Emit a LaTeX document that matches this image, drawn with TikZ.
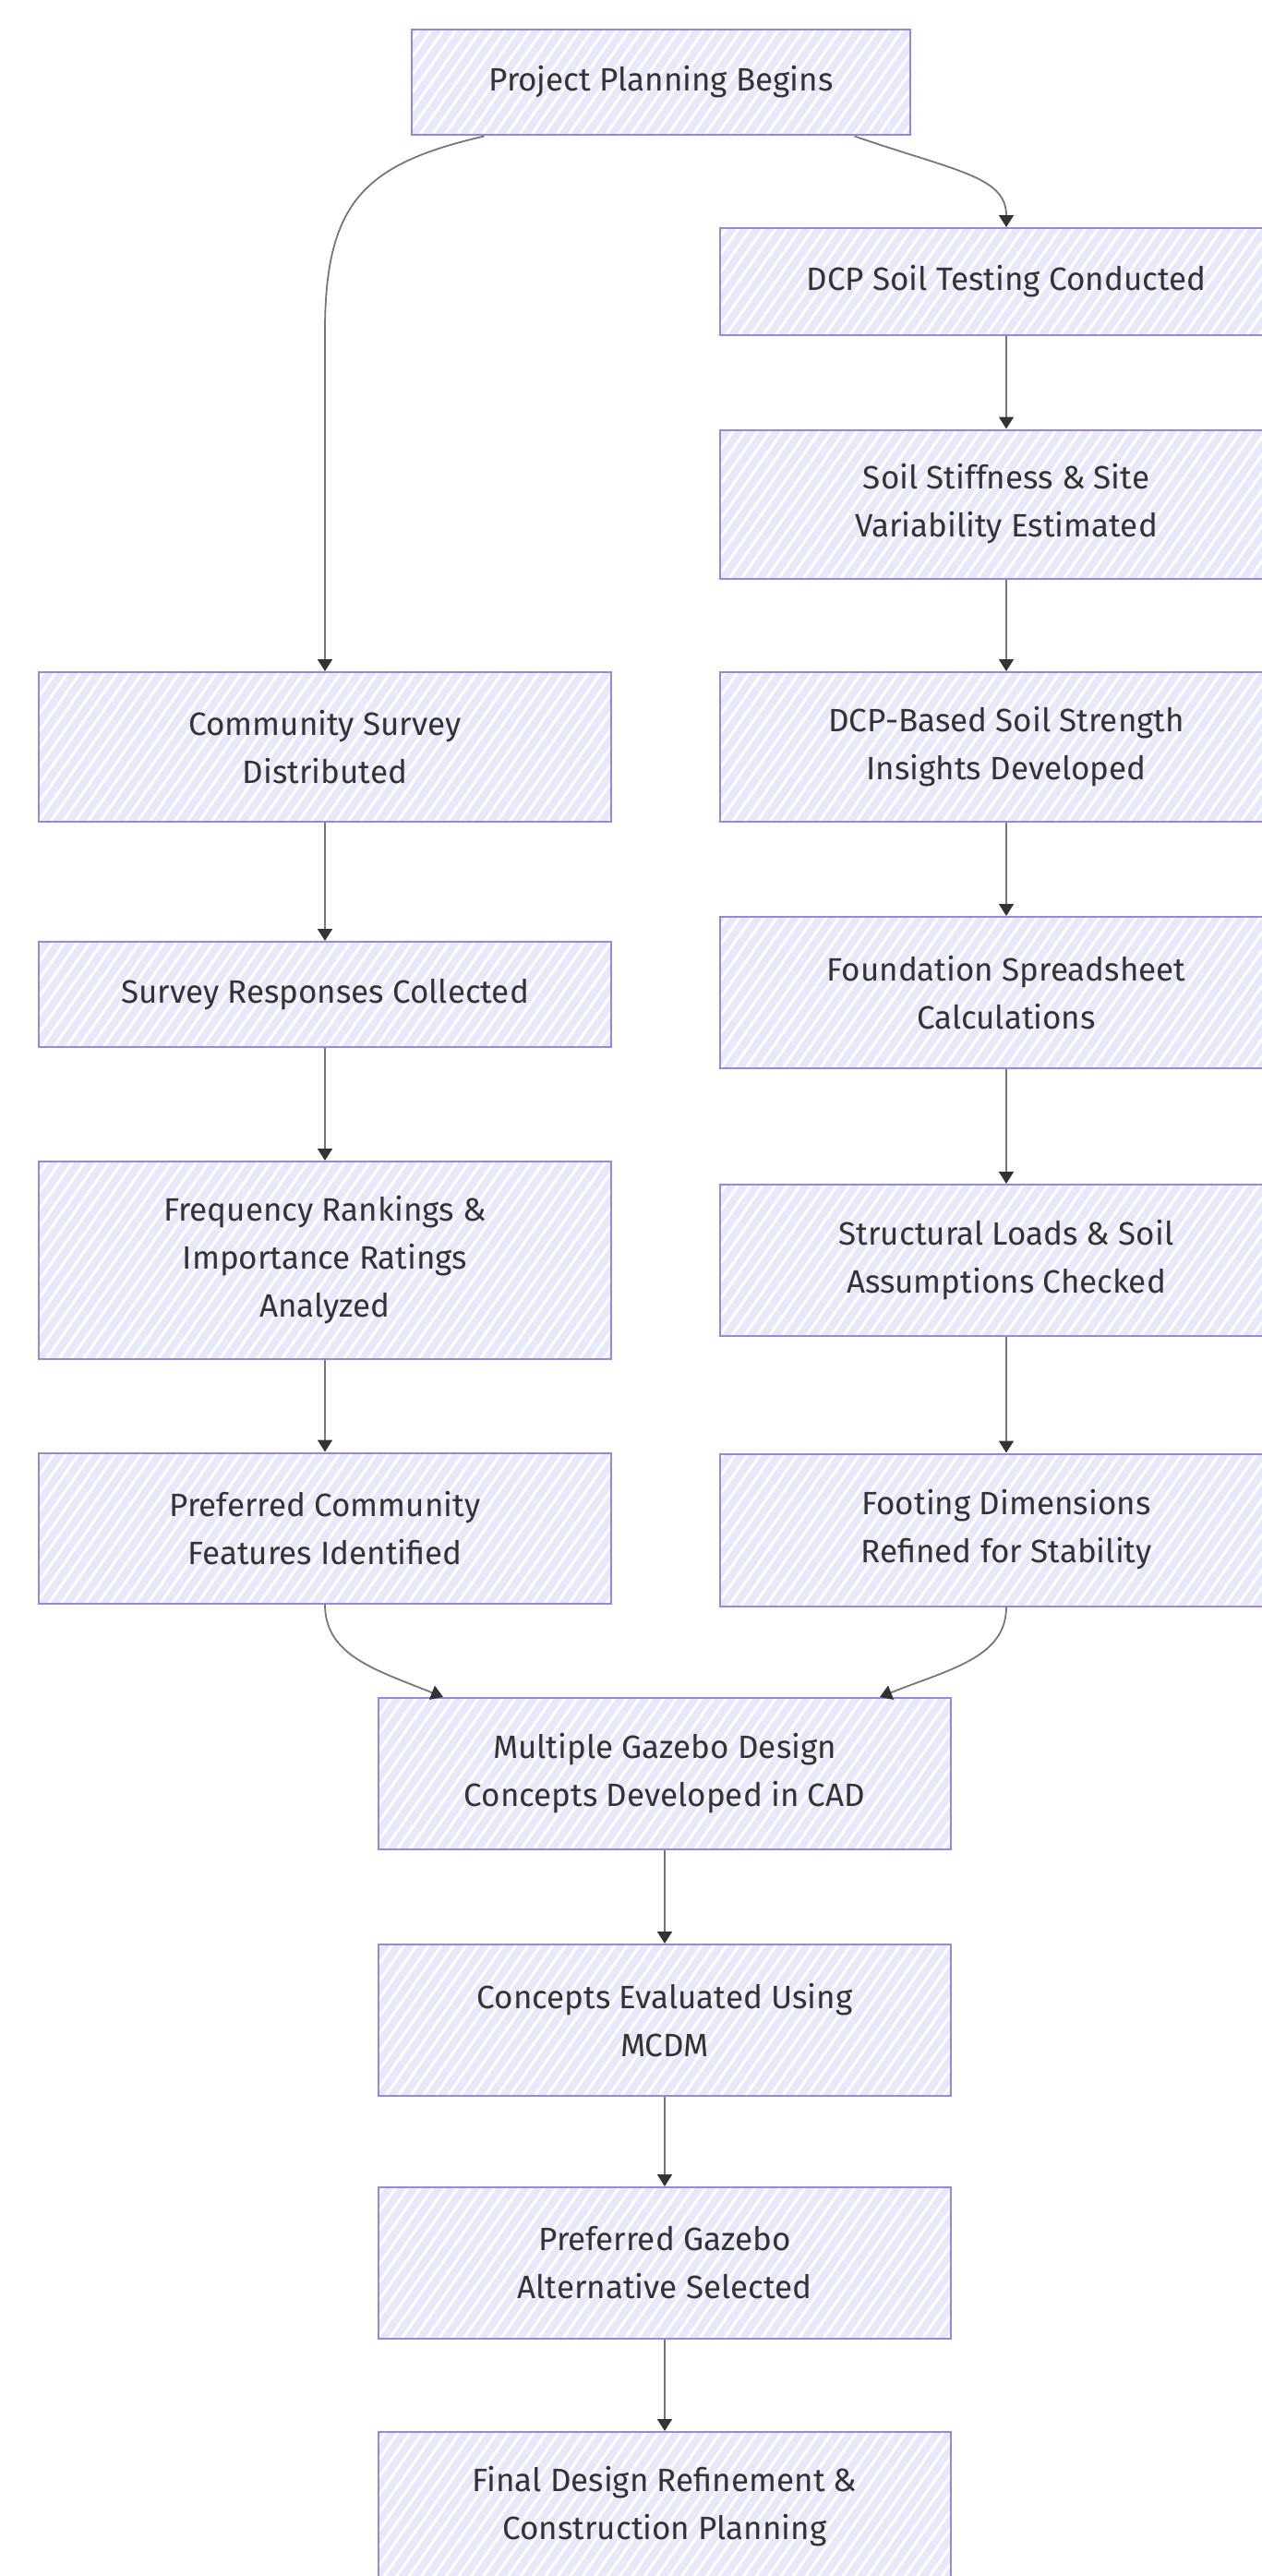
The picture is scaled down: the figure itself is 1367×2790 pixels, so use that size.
\documentclass[tikz,border=0pt]{standalone}
\usepackage{fontspec}
\setmainfont{Fira Sans}
\usetikzlibrary{arrows.meta,patterns.meta,calc}
\definecolor{boxfill}{HTML}{E8E8FB}
\definecolor{boxline}{HTML}{9A86DE}
\definecolor{textc}{HTML}{333333}
\definecolor{linec}{HTML}{777777}
\definecolor{tipc}{HTML}{333333}
\tikzset{
  box/.style={draw=boxline, line width=2pt, preaction={fill=boxfill},
    pattern={Lines[angle=55,distance=11pt,line width=3pt]}, pattern color=white,
    minimum width=620pt, minimum height=164pt, align=center, text=textc,
    font=\fontsize{35}{52}\selectfont, inner sep=0pt},
  conn/.style={draw=linec, line width=1.8pt, -{Triangle[width=16pt,length=13pt,color=tipc]}}
}
\begin{document}
\begin{tikzpicture}[x=1pt,y=1pt]
\useasboundingbox (0,0) rectangle (1367,-2790);
\clip (0,0) rectangle (1367,-2790);
\node[box, minimum width=540pt, minimum height=114pt] (A) at (716,-89) {Project Planning Begins};
\node[box, minimum height=116pt] (B) at (1090,-305) {DCP Soil Testing Conducted};
\node[box, minimum height=161pt] (C) at (1090,-546) {Soil Stiffness \& Site\\Variability Estimated};
\node[box, minimum height=162pt] (D) at (352,-809) {Community Survey\\Distributed};
\node[box, minimum height=162pt] (E) at (1090,-809) {DCP-Based Soil Strength\\Insights Developed};
\node[box, minimum height=114pt] (F) at (352,-1077) {Survey Responses Collected};
\node[box, minimum height=164pt] (G) at (1090,-1075) {Foundation Spreadsheet\\Calculations};
\node[box, minimum height=214pt] (H) at (352,-1365) {Frequency Rankings \&\\Importance Ratings\\Analyzed};
\node[box, minimum height=164pt] (I) at (1090,-1365) {Structural Loads \& Soil\\Assumptions Checked};
\node[box, minimum height=163pt] (J) at (352,-1655) {Preferred Community\\Features Identified};
\node[box, minimum height=165pt] (K) at (1090,-1657) {Footing Dimensions\\Refined for Stability};
\node[box] (L) at (720,-1921) {Multiple Gazebo Design\\Concepts Developed in CAD};
\node[box] (M) at (720,-2188) {Concepts Evaluated Using\\MCDM};
\node[box] (N) at (720,-2451) {Preferred Gazebo\\Alternative Selected};
\node[box, minimum height=162pt] (O) at (720,-2715) {Final Design Refinement \&\\Construction Planning};

\draw[conn] ([xshift=80pt]A.south west) .. controls +(-130,-30) and +(0,140) .. ($(D.north)+(0,368)$) -- (D.north);
\draw[conn] ([xshift=-62pt]A.south east) .. controls +(110,-38) and +(0,55) .. (B.north);
\draw[conn] (B) -- (C);
\draw[conn] (C) -- (E);
\draw[conn] (E) -- (G);
\draw[conn] (G) -- (I);
\draw[conn] (I) -- (K);
\draw[conn] (D) -- (F);
\draw[conn] (F) -- (H);
\draw[conn] (H) -- (J);
\draw[conn] (J.south) .. controls +(0,-55) and +(-75,30) .. ([xshift=71pt]L.north west);
\draw[conn] (K.south) .. controls +(0,-55) and +(75,30) .. ([xshift=-78pt]L.north east);
\draw[conn] (L) -- (M);
\draw[conn] (M) -- (N);
\draw[conn] (N) -- (O);
\end{tikzpicture}
\end{document}
